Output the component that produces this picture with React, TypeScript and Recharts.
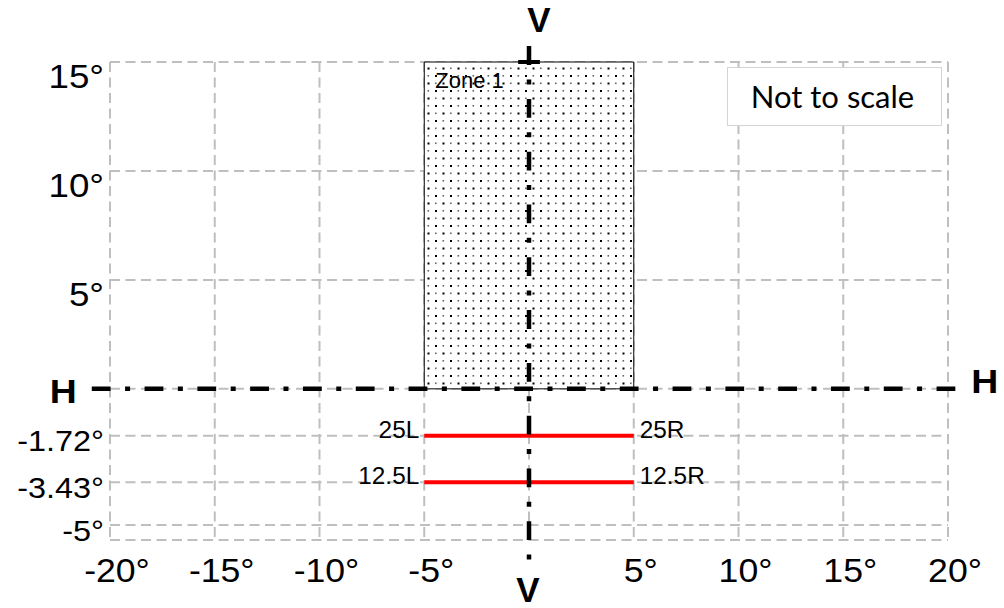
import React from 'react';
import {
  ComposedChart,
  XAxis,
  YAxis,
  CartesianGrid,
  ReferenceArea,
  ReferenceLine,
  Line,
  LabelList,
} from 'recharts';

// ---------- data ----------
const xTickValues = [-20, -15, -10, -5, 0, 5, 10, 15, 20];
const xTickLabels = ['-20', '-15', '-10', '-5', '', '5', '10', '15', '20'];

const yTickValues = [15, 10, 5, 0, -1.72, -3.43, -5];
const yTickLabels = ['15', '10', '5', '', '-1.72', '-3.43', '-5'];

const zoneName = 'Zone 1';
const zoneX = [-5, 5];
const zoneY = [0, 15];

const beamLevels = [-1.72, -3.43];
const beamLeftLabels = ['25L', '12.5L'];
const beamRightLabels = ['25R', '12.5R'];
const beamX = [-5, 5];

const noteText = 'Not to scale';
const vAxisName = 'V';
const hAxisName = 'H';

// ---------- scale (chart is "not to scale": below-horizon part stretched) ----------
const BELOW_STRETCH = 1.25;
const t = (v: number) => (v < 0 ? v * BELOW_STRETCH : v);
const Y_MIN = -5.55;
const Y_MAX = 15;
const X_MIN = -20;
const X_MAX = 20;

// extents of the V-V and H-H reference axes (degrees)
const V_EXTENT = [15.73, -6.29];
const H_EXTENT = [-20.87, 20.35];

const FONT = '"Liberation Sans", Arial, sans-serif';
const DASH_DOT = '18.8 14.5 5 14.5';

const yTicksT = [...yTickValues.map(t), t(Y_MIN)];

const YTick = (props: any) => {
  const { x, y, payload } = props;
  const i = yTickValues.findIndex((v) => Math.abs(t(v) - payload.value) < 1e-6);
  if (i < 0 || !yTickLabels[i]) return null;
  const neg = yTickValues[i] < 0;
  return (
    <text
      transform={`translate(${x - 6},${y + (neg ? 15.5 : 26)}) scale(1.08,1)`}
      textAnchor="end"
      fontFamily={FONT}
      fontSize={neg ? 30 : 34}
      fill="#000"
    >
      {yTickLabels[i]}°
    </text>
  );
};

const XTick = (props: any) => {
  const { x, y, payload } = props;
  const i = xTickValues.findIndex((v) => Math.abs(v - payload.value) < 1e-6);
  if (i < 0 || !xTickLabels[i]) return null;
  return (
    <text
      transform={`translate(${x + 7},${y + 42}) scale(1.08,1)`}
      textAnchor="middle"
      fontFamily={FONT}
      fontSize={33}
      fill="#000"
    >
      {xTickLabels[i]}°
    </text>
  );
};

const VLabels = (props: any) => {
  const { x, y, height } = props.viewBox;
  return (
    <g>
      <text x={x + 10} y={y - 14.3} textAnchor="middle" fontFamily={FONT} fontWeight="bold" fontSize={35} fill="#000">
        {vAxisName}
      </text>
      <text x={x - 1} y={y + height + 41.7} textAnchor="middle" fontFamily={FONT} fontWeight="bold" fontSize={35} fill="#000">
        {vAxisName}
      </text>
    </g>
  );
};

const HLabels = (props: any) => {
  const { x, y, width } = props.viewBox;
  return (
    <g>
      <text
        transform={`translate(${x - 15},${y + 14}) scale(1.1,1)`}
        textAnchor="end"
        fontFamily={FONT}
        fontWeight="bold"
        fontSize={34}
        fill="#000"
      >
        {hAxisName}
      </text>
      <text
        transform={`translate(${x + width + 16},${y + 4.5}) scale(1.1,1)`}
        textAnchor="start"
        fontFamily={FONT}
        fontWeight="bold"
        fontSize={34}
        fill="#000"
      >
        {hAxisName}
      </text>
    </g>
  );
};

const ZoneLabel = (props: any) => {
  const { x, y } = props.viewBox;
  return (
    <text x={x + 11} y={y + 26} fontFamily={FONT} fontSize={22} fill="#000">
      {zoneName}
    </text>
  );
};

const makeBeamLabel = (k: number) => (props: any) => {
  const { x, y, index } = props;
  const left = index === 0;
  return (
    <text
      transform={`translate(${left ? x - 5 : x + 6},${y + 2}) scale(1.06,1)`}
      textAnchor={left ? 'end' : 'start'}
      fontFamily={FONT}
      fontSize={23}
      fill="#000"
    >
      {left ? beamLeftLabels[k] : beamRightLabels[k]}
    </text>
  );
};

export default function App() {
  return (
    <div style={{ position: 'absolute', left: 0, top: 0, width: 1004, height: 608, background: '#fff' }}>
      <svg width={0} height={0} style={{ position: 'absolute' }}>
        <defs>
          <pattern id="zoneDots" patternUnits="userSpaceOnUse" width={15} height={15}>
            <rect x={0} y={0} width={15} height={15} fill="#fff" />
            <rect x={0} y={0} width={2} height={2} fill="#000" />
            <rect x={7.5} y={7.5} width={2} height={2} fill="#000" />
            <rect x={7.5} y={0} width={1.6} height={1.6} fill="#666" />
            <rect x={0} y={7.5} width={1.6} height={1.6} fill="#666" />
          </pattern>
        </defs>
      </svg>
      <ComposedChart width={1004} height={608} margin={{ top: 62, right: 56, bottom: 0, left: 0 }}>
        <CartesianGrid stroke="#bfbfbf" strokeWidth={2} strokeDasharray="10 5.5" />
        <XAxis
          type="number"
          dataKey="x"
          domain={[X_MIN, X_MAX]}
          ticks={xTickValues}
          interval={0}
          height={68}
          axisLine={false}
          tickLine={false}
          tickSize={0}
          tickMargin={0}
          tick={<XTick />}
          allowDataOverflow
        />
        <YAxis
          type="number"
          domain={[t(Y_MIN), Y_MAX]}
          ticks={yTicksT}
          interval={0}
          width={110}
          axisLine={false}
          tickLine={false}
          tickSize={0}
          tickMargin={0}
          tick={<YTick />}
          allowDataOverflow
        />
        <ReferenceArea
          x1={zoneX[0]}
          x2={zoneX[1]}
          y1={t(zoneY[0])}
          y2={t(zoneY[1])}
          fill="url(#zoneDots)"
          fillOpacity={1}
          stroke="#000"
          strokeWidth={1}
          label={ZoneLabel}
        />
        {beamLevels.map((lvl, k) => (
          <Line
            key={k}
            data={beamX.map((x) => ({ x, y: t(lvl) }))}
            dataKey="y"
            stroke="#ff0000"
            strokeWidth={4}
            dot={false}
            activeDot={false}
            isAnimationActive={false}
          >
            <LabelList dataKey="y" content={makeBeamLabel(k)} />
          </Line>
        ))}
        <ReferenceLine
          segment={[
            { x: H_EXTENT[0], y: 0 },
            { x: H_EXTENT[1], y: 0 },
          ]}
          stroke="#000"
          strokeWidth={4.5}
          strokeDasharray={DASH_DOT}
          ifOverflow="visible"
          label={HLabels}
        />
        <ReferenceLine
          segment={[
            { x: 0, y: V_EXTENT[0] },
            { x: 0, y: t(V_EXTENT[1]) },
          ]}
          stroke="#000"
          strokeWidth={4.5}
          strokeDasharray={DASH_DOT}
          ifOverflow="visible"
          label={VLabels}
        />
        <ReferenceLine
          segment={[
            { x: -0.52, y: Y_MAX },
            { x: 0.52, y: Y_MAX },
          ]}
          stroke="#000"
          strokeWidth={4}
          ifOverflow="visible"
        />
      </ComposedChart>
      <div
        style={{
          position: 'absolute',
          left: 727,
          top: 67,
          width: 209,
          height: 57,
          border: '1px solid #d4d4d4',
          background: '#fff',
          fontFamily: 'Lato, "Open Sans", sans-serif',
          fontSize: 31,
          lineHeight: '57px',
          textAlign: 'center',
          color: '#000',
          paddingRight: 4,
          boxSizing: 'content-box',
        }}
      >
        {noteText}
      </div>
    </div>
  );
}
